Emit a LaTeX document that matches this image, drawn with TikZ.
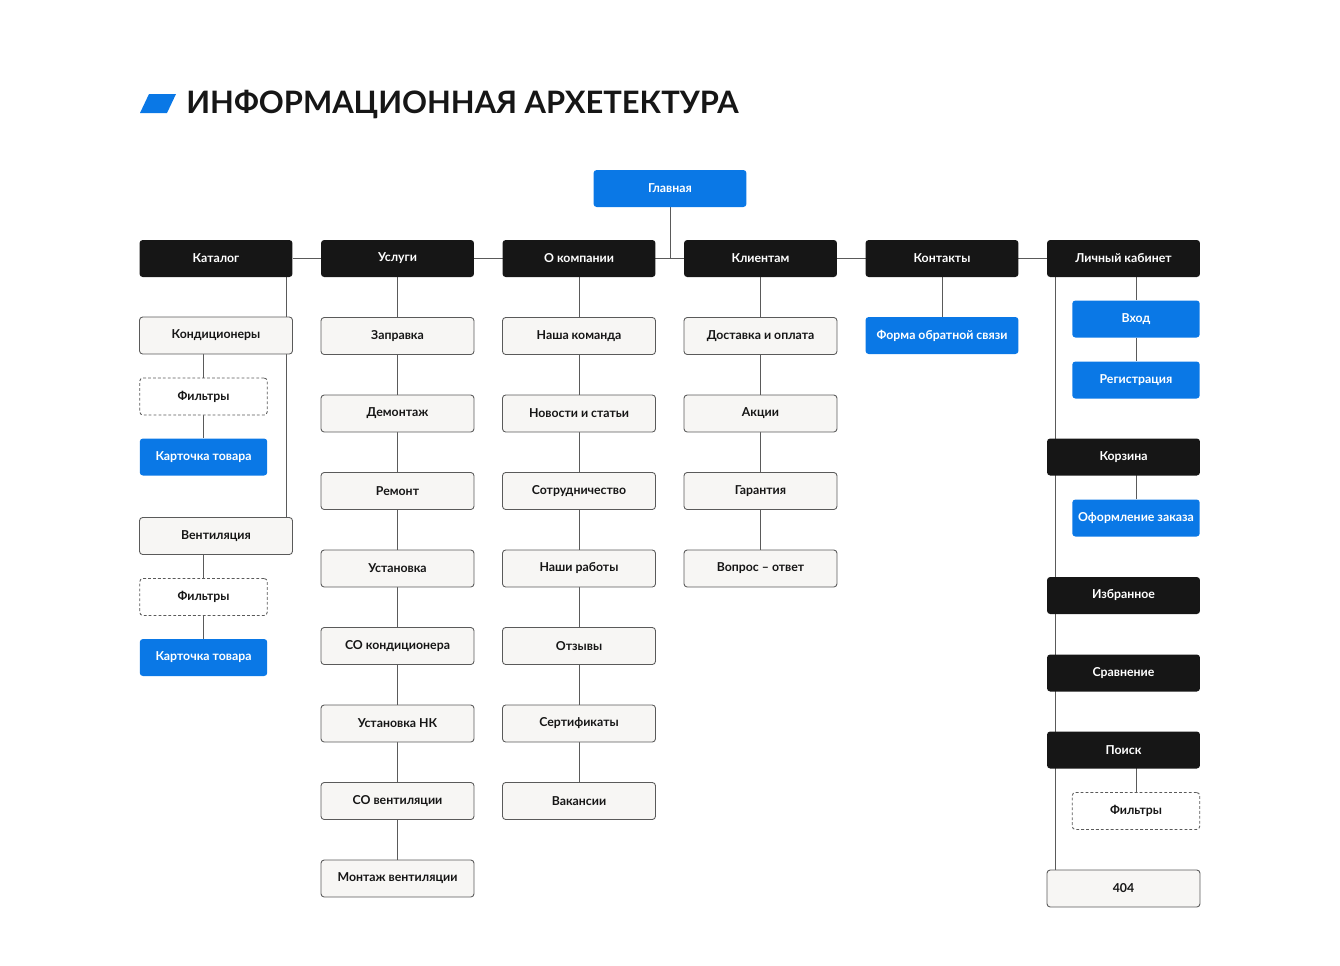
\documentclass[tikz,border=0pt]{standalone}
\usepackage{fontspec}
\setmainfont{Lato}
\usetikzlibrary{calc}
\usetikzlibrary{backgrounds}

\definecolor{mainblue}{RGB}{10,120,230}
\definecolor{nearblack}{RGB}{22,22,22}
\definecolor{paper}{RGB}{247,246,244}
\definecolor{edgegray}{RGB}{90,90,90}

\tikzset{
  box/.style={rounded corners=1.8pt, minimum width=3.06cm, minimum height=0.74cm,
    inner sep=0pt, font=\fontsize{7}{8}\selectfont\bfseries},
  topbox/.style={box, fill=nearblack, text=white},
  pagebox/.style={box, fill=paper, draw=edgegray, line width=0.5pt, text=nearblack},
  actbox/.style={box, fill=mainblue, text=white},
  filtbox/.style={box, fill=white, draw=edgegray, line width=0.5pt, dash pattern=on 1.6pt off 1.2pt, text=nearblack},
  narrow/.style={minimum width=2.55cm},
  link/.style={draw=edgegray, line width=0.55pt}
}

\begin{document}
\begin{tikzpicture}[x=0.02cm, y=-0.02cm]
\useasboundingbox (0,0) rectangle (1340,965);

% title
\fill[mainblue] (140,113) -- (149,94) -- (176,94) -- (167,113) -- cycle;
\node[anchor=west, inner sep=0pt, font=\fontsize{17.6}{20}\selectfont\bfseries, text=nearblack] (title) at (186,105) {ИНФОРМАЦИОННАЯ АРХЕТЕКТУРА};

\coordinate (kline) at (286,0);
\coordinate (lkline) at (1055,0);

\node[actbox] (glav) at (670,188.5) {Главная};
\foreach \n/\t [count=\i from 0] in {katalog/Каталог, uslugi/Услуги, company/О компании, clients/Клиентам, contacts/Контакты, lk/Личный кабинет} {
  \node[topbox] (\n) at (216+181.5*\i,258.5) {\t};
}

% Каталог
\node[pagebox] (kond) at (216,335.5) {Кондиционеры};
\node[filtbox, narrow] (kfilt1) at (203.5,396.5) {Фильтры};
\node[actbox, narrow] (kcard1) at (203.5,457) {Карточка товара};
\node[pagebox] (vent) at (216,536) {Вентиляция};
\node[filtbox, narrow] (kfilt2) at (203.5,597) {Фильтры};
\node[actbox, narrow] (kcard2) at (203.5,657.5) {Карточка товара};

% Услуги, О компании, Клиентам
\foreach \t [count=\i] in {Заправка, Демонтаж, Ремонт, Установка, СО кондиционера, Установка НК, СО вентиляции, Монтаж вентиляции} {
  \node[pagebox] (usl\i) at (397.5,258.5+77.5*\i) {\t};
}
\foreach \t [count=\i] in {Наша команда, Новости и статьи, Сотрудничество, Наши работы, Отзывы, Сертификаты, Вакансии} {
  \node[pagebox] (comp\i) at (579,258.5+77.5*\i) {\t};
}
\foreach \t [count=\i] in {Доставка и оплата, Акции, Гарантия, Вопрос -- ответ} {
  \node[pagebox] (cl\i) at (760.5,258.5+77.5*\i) {\t};
}
\node[actbox] (feedback) at (942,335.5) {Форма обратной связи};

% Личный кабинет
\node[actbox, narrow] (vhod) at (1136,319) {Вход};
\node[actbox, narrow] (reg) at (1136,380) {Регистрация};
\node[topbox] (korz) at (1123.5,457) {Корзина};
\node[actbox, narrow] (order) at (1136,518) {Оформление заказа};
\node[topbox] (fav) at (1123.5,595.5) {Избранное};
\node[topbox] (compare) at (1123.5,673) {Сравнение};
\node[topbox] (search) at (1123.5,750) {Поиск};
\node[filtbox, narrow] (sfilt) at (1136,811) {Фильтры};
\node[pagebox] (e404) at (1123.5,888.5) {404};

\begin{scope}[on background layer]
  \draw[link] (katalog) -- (lk);
  \draw[link] (glav) -- (glav |- katalog);
  \draw[link] (katalog.center -| kline) -- (vent.center -| kline);
  \draw[link] (kond.center -| kfilt1) -- (kfilt1) -- (kcard1);
  \draw[link] (vent.center -| kfilt2) -- (kfilt2) -- (kcard2);
  \draw[link] (uslugi) -- (usl8);
  \draw[link] (company) -- (comp7);
  \draw[link] (clients) -- (cl4);
  \draw[link] (contacts) -- (feedback);
  \draw[link] (lk.center -| lkline) -- (e404.center -| lkline);
  \draw[link] (lk.center -| vhod) -- (vhod) -- (reg);
  \draw[link] (korz.center -| order) -- (order);
  \draw[link] (search.center -| sfilt) -- (sfilt);
\end{scope}
\end{tikzpicture}
\end{document}
